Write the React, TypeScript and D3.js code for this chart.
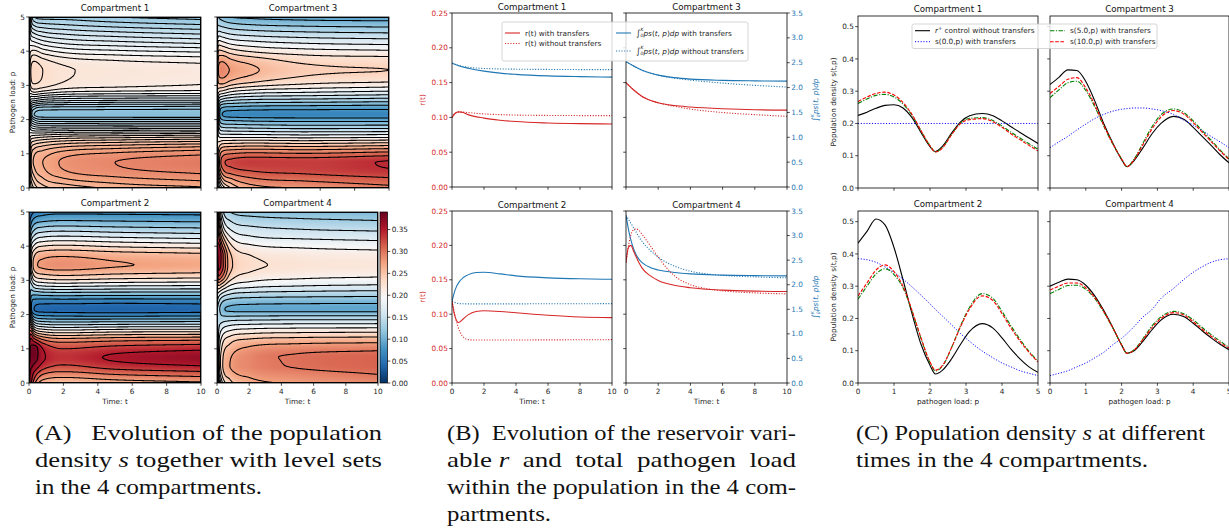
import React, { useMemo } from 'react';
import * as d3 from 'd3';

// ---------------- data ----------------
const P_GRID = [0, 0.25, 0.5, 0.75, 1, 1.25, 1.5, 1.75, 2, 2.15, 2.35, 2.6, 2.85, 3.1, 3.45, 3.75, 4, 4.25, 4.5, 4.75, 5];
const SNAP_TIMES = [0, 0.1, 0.3, 0.8, 2, 5, 10];

// Panel C profiles (also t=0, t=5, t=10 snapshots of the heat maps)
const C1_CONTROL = [0.225, 0.235, 0.247, 0.256, 0.258, 0.248, 0.218, 0.172, 0.128, 0.113, 0.13, 0.17, 0.205, 0.224, 0.231, 0.224, 0.208, 0.19, 0.172, 0.155, 0.138];
const C1_S0 = [0.2, 0.2, 0.2, 0.2, 0.2, 0.2, 0.2, 0.2, 0.2, 0.2, 0.2, 0.2, 0.2, 0.2, 0.2, 0.2, 0.2, 0.2, 0.2, 0.2, 0.2];
const C1_S5 = [0.262, 0.276, 0.287, 0.29, 0.282, 0.26, 0.225, 0.177, 0.131, 0.112, 0.126, 0.166, 0.202, 0.216, 0.218, 0.209, 0.192, 0.173, 0.155, 0.137, 0.12];
const C1_S10 = [0.268, 0.282, 0.293, 0.297, 0.288, 0.265, 0.228, 0.178, 0.131, 0.1115, 0.125, 0.165, 0.2, 0.212, 0.215, 0.205, 0.188, 0.168, 0.15, 0.132, 0.115];

const C2_CONTROL = [0.433, 0.47, 0.508, 0.49, 0.42, 0.32, 0.215, 0.12, 0.055, 0.028, 0.04, 0.075, 0.12, 0.16, 0.184, 0.17, 0.14, 0.105, 0.075, 0.05, 0.033];
const C2_S0 = [0.385, 0.382, 0.374, 0.36, 0.343, 0.322, 0.298, 0.272, 0.245, 0.228, 0.207, 0.18, 0.153, 0.129, 0.099, 0.078, 0.062, 0.05, 0.038, 0.03, 0.023];
const C2_S5 = [0.26, 0.3, 0.338, 0.354, 0.336, 0.295, 0.222, 0.138, 0.063, 0.037, 0.053, 0.11, 0.178, 0.235, 0.277, 0.262, 0.222, 0.177, 0.135, 0.098, 0.067];
const C2_S10 = [0.27, 0.31, 0.35, 0.366, 0.345, 0.3, 0.225, 0.14, 0.065, 0.04, 0.055, 0.11, 0.175, 0.23, 0.27, 0.255, 0.215, 0.17, 0.13, 0.095, 0.065];

const C3_CONTROL = [0.321, 0.343, 0.366, 0.364, 0.33, 0.27, 0.2, 0.14, 0.088, 0.066, 0.085, 0.125, 0.168, 0.2, 0.222, 0.212, 0.188, 0.16, 0.132, 0.103, 0.078];
const C3_S0 = [0.125, 0.143, 0.16, 0.18, 0.198, 0.215, 0.228, 0.238, 0.244, 0.246, 0.248, 0.248, 0.245, 0.24, 0.228, 0.21, 0.195, 0.178, 0.16, 0.143, 0.125];
const C3_S5 = [0.28, 0.304, 0.326, 0.331, 0.302, 0.252, 0.192, 0.137, 0.09, 0.066, 0.09, 0.14, 0.19, 0.227, 0.245, 0.233, 0.208, 0.178, 0.148, 0.118, 0.09];
const C3_S10 = [0.293, 0.315, 0.337, 0.342, 0.31, 0.258, 0.195, 0.138, 0.09, 0.066, 0.088, 0.135, 0.183, 0.22, 0.24, 0.228, 0.203, 0.173, 0.144, 0.115, 0.088];

const C4_CONTROL = [0.3, 0.312, 0.322, 0.32, 0.303, 0.27, 0.225, 0.173, 0.118, 0.092, 0.1, 0.13, 0.165, 0.195, 0.213, 0.205, 0.185, 0.162, 0.14, 0.12, 0.103];
const C4_S0 = [0.023, 0.03, 0.038, 0.05, 0.062, 0.078, 0.095, 0.118, 0.138, 0.153, 0.175, 0.205, 0.228, 0.262, 0.293, 0.322, 0.343, 0.36, 0.374, 0.382, 0.385];
const C4_S5 = [0.277, 0.29, 0.302, 0.303, 0.29, 0.262, 0.22, 0.171, 0.118, 0.092, 0.103, 0.138, 0.177, 0.205, 0.222, 0.214, 0.196, 0.172, 0.15, 0.13, 0.11];
const C4_S10 = [0.288, 0.3, 0.31, 0.31, 0.295, 0.265, 0.222, 0.172, 0.118, 0.092, 0.102, 0.135, 0.172, 0.2, 0.218, 0.21, 0.19, 0.167, 0.145, 0.125, 0.108];

// Heat-map transient snapshots at t = 0.1, 0.3, 0.8, 2
const H1_T01 = [0.215, 0.228, 0.238, 0.244, 0.242, 0.232, 0.212, 0.185, 0.158, 0.145, 0.152, 0.18, 0.21, 0.226, 0.23, 0.222, 0.21, 0.195, 0.18, 0.165, 0.155];
const H1_T03 = [0.232, 0.245, 0.256, 0.262, 0.258, 0.242, 0.215, 0.178, 0.14, 0.12, 0.135, 0.178, 0.216, 0.232, 0.236, 0.228, 0.212, 0.192, 0.172, 0.15, 0.13];
const H1_T08 = [0.245, 0.258, 0.267, 0.27, 0.265, 0.248, 0.218, 0.175, 0.131, 0.1135, 0.128, 0.172, 0.212, 0.228, 0.23, 0.222, 0.205, 0.185, 0.165, 0.145, 0.125];
const H1_T2 = [0.252, 0.268, 0.279, 0.282, 0.275, 0.255, 0.222, 0.176, 0.131, 0.1125, 0.127, 0.168, 0.205, 0.22, 0.222, 0.214, 0.197, 0.178, 0.16, 0.142, 0.125];

const H2_T01 = [0.36, 0.37, 0.378, 0.382, 0.38, 0.36, 0.31, 0.23, 0.14, 0.1, 0.095, 0.11, 0.14, 0.17, 0.2, 0.19, 0.16, 0.125, 0.09, 0.06, 0.035];
const H2_T03 = [0.31, 0.34, 0.37, 0.384, 0.386, 0.34, 0.255, 0.16, 0.08, 0.05, 0.06, 0.105, 0.165, 0.22, 0.26, 0.245, 0.205, 0.16, 0.12, 0.085, 0.05];
const H2_T08 = [0.26, 0.3, 0.34, 0.355, 0.35, 0.305, 0.225, 0.14, 0.068, 0.04, 0.055, 0.11, 0.178, 0.235, 0.28, 0.265, 0.225, 0.178, 0.135, 0.095, 0.062];
const H2_T2 = [0.25, 0.288, 0.322, 0.338, 0.325, 0.288, 0.215, 0.135, 0.065, 0.038, 0.055, 0.112, 0.182, 0.242, 0.285, 0.27, 0.23, 0.183, 0.14, 0.1, 0.068];

const H3_T01 = [0.16, 0.2, 0.24, 0.26, 0.255, 0.232, 0.2, 0.168, 0.14, 0.13, 0.14, 0.18, 0.228, 0.265, 0.285, 0.272, 0.245, 0.21, 0.172, 0.14, 0.118];
const H3_T03 = [0.2, 0.25, 0.29, 0.31, 0.29, 0.248, 0.195, 0.145, 0.1, 0.08, 0.1, 0.16, 0.222, 0.268, 0.29, 0.275, 0.242, 0.205, 0.168, 0.136, 0.11];
const H3_T08 = [0.24, 0.275, 0.31, 0.325, 0.3, 0.252, 0.195, 0.142, 0.095, 0.07, 0.095, 0.15, 0.208, 0.255, 0.278, 0.262, 0.23, 0.194, 0.16, 0.129, 0.1];
const H3_T2 = [0.27, 0.295, 0.32, 0.332, 0.305, 0.255, 0.195, 0.14, 0.092, 0.067, 0.092, 0.143, 0.197, 0.242, 0.264, 0.25, 0.218, 0.186, 0.154, 0.123, 0.095];

const H4_T01 = [0.11, 0.15, 0.17, 0.175, 0.17, 0.16, 0.15, 0.14, 0.135, 0.135, 0.15, 0.19, 0.25, 0.32, 0.365, 0.375, 0.36, 0.33, 0.31, 0.29, 0.27];
const H4_T03 = [0.19, 0.225, 0.24, 0.238, 0.228, 0.21, 0.183, 0.152, 0.122, 0.11, 0.125, 0.17, 0.235, 0.3, 0.34, 0.34, 0.31, 0.27, 0.23, 0.2, 0.17];
const H4_T08 = [0.24, 0.262, 0.275, 0.272, 0.26, 0.24, 0.205, 0.163, 0.117, 0.095, 0.11, 0.15, 0.2, 0.24, 0.26, 0.255, 0.235, 0.205, 0.175, 0.15, 0.125];
const H4_T2 = [0.265, 0.28, 0.29, 0.29, 0.28, 0.255, 0.215, 0.168, 0.117, 0.092, 0.105, 0.142, 0.185, 0.215, 0.232, 0.225, 0.205, 0.18, 0.158, 0.136, 0.115];

const LEVEL_STEP = { 1: 0.01, 2: 0.025, 3: 0.02, 4: 0.025 };

// Panel B time series
const B1_R_WITH_T = [0, 0.2, 0.4, 0.7, 1, 2, 3, 4, 6, 8, 10];
const B1_R_WITH = [0.1, 0.106, 0.108, 0.107, 0.104, 0.099, 0.096, 0.094, 0.092, 0.091, 0.0905];
const B1_R_WO_T = [0, 0.2, 0.5, 1, 2, 3, 5, 10];
const B1_R_WO = [0.1, 0.106, 0.108, 0.107, 0.105, 0.104, 0.103, 0.1025];
const B1_I_WITH_T = [0, 0.5, 1, 2, 3, 4, 6, 8, 10];
const B1_I_WITH = [2.49, 2.43, 2.39, 2.33, 2.29, 2.265, 2.235, 2.22, 2.21];
const B1_I_WO_T = [0, 0.5, 1, 2, 4, 6, 10];
const B1_I_WO = [2.49, 2.44, 2.41, 2.385, 2.37, 2.365, 2.36];

const B3_T = [0, 0.5, 1, 2, 3, 4, 6, 8, 10];
const B3_R_WITH = [0.15, 0.139, 0.13, 0.121, 0.117, 0.115, 0.1125, 0.111, 0.1105];
const B3_R_WO = [0.15, 0.139, 0.13, 0.121, 0.116, 0.112, 0.107, 0.104, 0.1015];
const B3_I_WITH = [2.52, 2.43, 2.35, 2.25, 2.2, 2.17, 2.145, 2.135, 2.13];
const B3_I_WO = [2.52, 2.43, 2.35, 2.25, 2.19, 2.15, 2.09, 2.045, 2.01];

const B2_R_WITH_T = [0, 0.15, 0.4, 0.7, 1, 1.5, 2, 3, 4, 6, 8, 10];
const B2_R_WITH = [0.119, 0.1, 0.088, 0.093, 0.099, 0.104, 0.105, 0.104, 0.102, 0.0985, 0.096, 0.095];
const B2_R_WO_T = [0, 0.25, 0.5, 0.75, 1, 1.5, 10];
const B2_R_WO = [0.119, 0.092, 0.074, 0.066, 0.063, 0.0625, 0.063];
const B2_I_WITH_T = [0, 0.2, 0.5, 1, 1.5, 2, 3, 4, 6, 8, 10];
const B2_I_WITH = [1.66, 1.9, 2.08, 2.2, 2.25, 2.255, 2.22, 2.18, 2.14, 2.12, 2.11];
const B2_I_WO_T = [0, 0.5, 1, 10];
const B2_I_WO = [1.66, 1.615, 1.61, 1.615];

const B4_R_WITH_T = [0, 0.15, 0.3, 0.5, 0.8, 1, 1.5, 2, 3, 4, 6, 8, 10];
const B4_R_WITH = [0.175, 0.197, 0.2, 0.19, 0.175, 0.167, 0.156, 0.149, 0.142, 0.1385, 0.135, 0.1335, 0.133];
const B4_R_WO_T = [0, 0.2, 0.4, 0.6, 0.8, 1, 1.5, 2, 2.5, 3, 4, 5, 6, 8, 10];
const B4_R_WO = [0.175, 0.205, 0.221, 0.224, 0.222, 0.216, 0.2, 0.183, 0.168, 0.156, 0.143, 0.137, 0.134, 0.131, 0.1295];
const B4_I_WITH_T = [0, 0.2, 0.4, 0.6, 0.8, 1, 1.5, 2, 3, 4, 6, 8, 10];
const B4_I_WITH = [3.41, 3.05, 2.8, 2.63, 2.52, 2.45, 2.35, 2.3, 2.25, 2.22, 2.195, 2.185, 2.18];
const B4_I_WO_T = [0, 0.25, 0.5, 1, 1.5, 2, 3, 4, 5, 6, 8, 10];
const B4_I_WO = [3.41, 3.28, 3.14, 2.88, 2.7, 2.56, 2.38, 2.275, 2.22, 2.19, 2.16, 2.14];

// ticks
const T_TICKS = [0, 2, 4, 6, 8, 10];
const P_TICKS = [0, 1, 2, 3, 4, 5];
const R_TICKS = [0, 0.05, 0.1, 0.15, 0.2, 0.25];
const I_TICKS = [0, 0.5, 1, 1.5, 2, 2.5, 3, 3.5];
const S_TICKS = [0, 0.1, 0.2, 0.3, 0.4, 0.5];
const CB_TICKS = [0, 0.05, 0.1, 0.15, 0.2, 0.25, 0.3, 0.35];

// ---------------- helpers ----------------
const RDBU_R = ['#053061', '#2166ac', '#4393c3', '#92c5de', '#d1e5f0', '#f7f7f7', '#fddbc7', '#f4a582', '#d6604d', '#b2182b', '#67001f'];
const VMAX = 0.39;
const SANS = 'DejaVu Sans, sans-serif';
const TF = 7.3;
const TXT = '#262626';
const TRED = '#d62728';
const TBLUE = '#1f77b4';

function monotone(xs: number[], ys: number[]) {
  const n = xs.length;
  const d: number[] = [];
  const m: number[] = new Array(n).fill(0);
  for (let i = 0; i < n - 1; i++) d.push((ys[i + 1] - ys[i]) / (xs[i + 1] - xs[i]));
  m[0] = d[0];
  m[n - 1] = d[n - 2];
  for (let i = 1; i < n - 1; i++) m[i] = d[i - 1] * d[i] <= 0 ? 0 : (d[i - 1] + d[i]) / 2;
  for (let i = 0; i < n - 1; i++) {
    if (d[i] === 0) { m[i] = 0; m[i + 1] = 0; continue; }
    const a = m[i] / d[i], b = m[i + 1] / d[i];
    const s = a * a + b * b;
    if (s > 9) { const tau = 3 / Math.sqrt(s); m[i] = tau * a * d[i]; m[i + 1] = tau * b * d[i]; }
  }
  return (x: number) => {
    let i = d3.bisectRight(xs, x) - 1;
    if (i < 0) i = 0;
    if (i > n - 2) i = n - 2;
    const h = xs[i + 1] - xs[i];
    const t = (x - xs[i]) / h;
    const t2 = t * t, t3 = t2 * t;
    return (2 * t3 - 3 * t2 + 1) * ys[i] + (t3 - 2 * t2 + t) * h * m[i] + (-2 * t3 + 3 * t2) * ys[i + 1] + (t3 - t2) * h * m[i + 1];
  };
}

const cmapScale = d3.scaleLinear<string>()
  .domain(RDBU_R.map((_, i) => (i / 10) * VMAX))
  .range(RDBU_R)
  .interpolate(d3.interpolateRgb)
  .clamp(true);

function buildLUT() {
  const N = 1024;
  const lut = new Uint8ClampedArray(N * 3);
  for (let k = 0; k < N; k++) {
    const c = d3.rgb(cmapScale((k / (N - 1)) * VMAX));
    lut[k * 3] = c.r; lut[k * 3 + 1] = c.g; lut[k * 3 + 2] = c.b;
  }
  return lut;
}

const SNAPS: Record<number, number[][]> = {
  1: [C1_S0, H1_T01, H1_T03, H1_T08, H1_T2, C1_S5, C1_S10],
  2: [C2_S0, H2_T01, H2_T03, H2_T08, H2_T2, C2_S5, C2_S10],
  3: [C3_S0, H3_T01, H3_T03, H3_T08, H3_T2, C3_S5, C3_S10],
  4: [C4_S0, H4_T01, H4_T03, H4_T08, H4_T2, C4_S5, C4_S10],
};

function Heatmap({ comp, x, y, w, h }: { comp: number; x: number; y: number; w: number; h: number }) {
  const res = useMemo(() => {
    const nx = Math.round(w), ny = Math.round(h);
    const profs = SNAPS[comp].map((s) => monotone(P_GRID, s));
    const vals = new Array(nx * ny);
    for (let j = 0; j < ny; j++) {
      const p = 5 - ((j + 0.5) / ny) * 5;
      const col = profs.map((f) => f(p));
      const ft = monotone(SNAP_TIMES, col);
      for (let i = 0; i < nx; i++) {
        const t = ((i + 0.5) / nx) * 10;
        vals[j * nx + i] = ft(t);
      }
    }
    const lut = buildLUT();
    const canvas = document.createElement('canvas');
    canvas.width = nx; canvas.height = ny;
    const ctx = canvas.getContext('2d')!;
    const img = ctx.createImageData(nx, ny);
    for (let k = 0; k < nx * ny; k++) {
      let q = Math.round((vals[k] / VMAX) * 1023);
      q = Math.max(0, Math.min(1023, q));
      img.data[k * 4] = lut[q * 3];
      img.data[k * 4 + 1] = lut[q * 3 + 1];
      img.data[k * 4 + 2] = lut[q * 3 + 2];
      img.data[k * 4 + 3] = 255;
    }
    ctx.putImageData(img, 0, 0);
    const href = canvas.toDataURL();
    const step = (LEVEL_STEP as any)[comp];
    const levels = d3.range(1, Math.floor(0.4 / step)).map((k) => k * step);
    const contours = d3.contours().size([nx, ny]).thresholds(levels)(vals);
    const tr = d3.geoTransform({
      point: function (this: any, px: number, py: number) {
        this.stream.point(x + (px * w) / nx, y + (py * h) / ny);
      },
    });
    const gp = d3.geoPath(tr);
    const paths = contours.map((c) => gp(c as any)).filter((d) => !!d) as string[];
    return { href, paths };
  }, [comp, x, y, w, h]);
  const cid = `clipA${comp}`;
  return (
    <g>
      <clipPath id={cid}><rect x={x} y={y} width={w} height={h} /></clipPath>
      <image href={res.href} x={x} y={y} width={w} height={h} preserveAspectRatio="none" />
      <g clipPath={`url(#${cid})`}>
        {res.paths.map((d, i) => (
          <path key={i} d={d} fill="none" stroke="#000" strokeWidth={1.05} />
        ))}
      </g>
      <rect x={x} y={y} width={w} height={h} fill="none" stroke="#000" strokeWidth={0.8} />
    </g>
  );
}

function XTicks({ scale, y, ticks, labels, fmt }: any) {
  return (
    <g>
      {ticks.map((t: number) => (
        <g key={t}>
          <line x1={scale(t)} x2={scale(t)} y1={y} y2={y + 2.8} stroke="#000" strokeWidth={0.7} />
          {labels && (
            <text x={scale(t)} y={y + 10.5} fontSize={TF} fontFamily={SANS} fill={TXT} textAnchor="middle">{fmt ? fmt(t) : t}</text>
          )}
        </g>
      ))}
    </g>
  );
}

function YTicks({ scale, x, ticks, labels, fmt, side = 'left', color = TXT }: any) {
  const dir = side === 'left' ? -1 : 1;
  return (
    <g>
      {ticks.map((t: number) => (
        <g key={t}>
          <line x1={x} x2={x + dir * 2.8} y1={scale(t)} y2={scale(t)} stroke="#000" strokeWidth={0.7} />
          {labels && (
            <text x={x + dir * 4.2} y={scale(t) + 2.6} fontSize={TF} fontFamily={SANS} fill={color} textAnchor={side === 'left' ? 'end' : 'start'}>{fmt ? fmt(t) : t}</text>
          )}
        </g>
      ))}
    </g>
  );
}

function Title({ x, y, text }: any) {
  return <text x={x} y={y} fontSize={8.7} fontFamily={SANS} fill="#111" textAnchor="middle">{text}</text>;
}

function IntegralText({ fs, tail }: { fs: number; tail?: string }) {
  return (
    <>
      <tspan fontSize={fs * 1.15} fontFamily="DejaVu Sans">∫</tspan>
      <tspan fontSize={fs * 0.62} dy={fs * 0.25} fontStyle="italic">0</tspan>
      <tspan fontSize={fs * 0.62} dx={-fs * 0.38} dy={-fs * 0.85} fontStyle="italic">K</tspan>
      <tspan dy={fs * 0.6} fontStyle="italic">ps</tspan>
      <tspan>(</tspan>
      <tspan fontStyle="italic">t</tspan>
      <tspan>, </tspan>
      <tspan fontStyle="italic">p</tspan>
      <tspan>)</tspan>
      <tspan fontStyle="italic">dp</tspan>
      {tail ? <tspan>{tail}</tspan> : null}
    </>
  );
}

// ---------------- Panel A ----------------
function PanelA() {
  const panels = [
    { comp: 1, x: 29, y: 17, w: 172, h: 171, title: 'Compartment 1', yl: true, xl: false },
    { comp: 3, x: 217, y: 17, w: 172, h: 171, title: 'Compartment 3', yl: false, xl: false },
    { comp: 2, x: 29, y: 212, w: 172, h: 171, title: 'Compartment 2', yl: true, xl: true },
    { comp: 4, x: 217, y: 212, w: 161, h: 171, title: 'Compartment 4', yl: false, xl: true },
  ];
  const cb = { x: 380, y: 212, w: 7.5, h: 171 };
  const cbScale = d3.scaleLinear().domain([0, VMAX]).range([cb.y + cb.h, cb.y]);
  return (
    <g>
      <defs>
        <linearGradient id="cbgrad" x1="0" y1="1" x2="0" y2="0">
          {RDBU_R.map((c, i) => <stop key={i} offset={`${i * 10}%`} stopColor={c} />)}
        </linearGradient>
      </defs>
      {panels.map((pn) => {
        const xs = d3.scaleLinear().domain([0, 10]).range([pn.x, pn.x + pn.w]);
        const ys = d3.scaleLinear().domain([0, 5]).range([pn.y + pn.h, pn.y]);
        return (
          <g key={pn.comp}>
            <Heatmap comp={pn.comp} x={pn.x} y={pn.y} w={pn.w} h={pn.h} />
            <XTicks scale={xs} y={pn.y + pn.h} ticks={T_TICKS} labels={pn.xl} />
            <YTicks scale={ys} x={pn.x} ticks={P_TICKS} labels={pn.yl} />
            <Title x={pn.x + pn.w / 2} y={pn.y - 6} text={pn.title} />
            {pn.xl && <text x={pn.x + pn.w / 2} y={pn.y + pn.h + 20.5} fontSize={TF} fontFamily={SANS} fill={TXT} textAnchor="middle">Time: t</text>}
            {pn.yl && <text transform={`translate(14.5,${pn.y + pn.h / 2}) rotate(-90)`} fontSize={TF} fontFamily={SANS} fill={TXT} textAnchor="middle">Pathogen load: p</text>}
          </g>
        );
      })}
      <rect x={cb.x} y={cb.y} width={cb.w} height={cb.h} fill="url(#cbgrad)" stroke="#000" strokeWidth={0.7} />
      <YTicks scale={cbScale} x={cb.x + cb.w} ticks={CB_TICKS} labels side="right" fmt={(v: number) => v.toFixed(2)} />
    </g>
  );
}

// ---------------- Panel B ----------------
function PanelB() {
  const panels = [
    { comp: 1, x: 452, y: 13, w: 160, h: 174, title: 'Compartment 1', left: true, right: false, xl: false,
      rw: [B1_R_WITH_T, B1_R_WITH], ro: [B1_R_WO_T, B1_R_WO], iw: [B1_I_WITH_T, B1_I_WITH], io: [B1_I_WO_T, B1_I_WO] },
    { comp: 3, x: 626, y: 13, w: 161, h: 174, title: 'Compartment 3', left: false, right: true, xl: false,
      rw: [B3_T, B3_R_WITH], ro: [B3_T, B3_R_WO], iw: [B3_T, B3_I_WITH], io: [B3_T, B3_I_WO] },
    { comp: 2, x: 452, y: 211, w: 160, h: 172, title: 'Compartment 2', left: true, right: false, xl: true,
      rw: [B2_R_WITH_T, B2_R_WITH], ro: [B2_R_WO_T, B2_R_WO], iw: [B2_I_WITH_T, B2_I_WITH], io: [B2_I_WO_T, B2_I_WO] },
    { comp: 4, x: 626, y: 211, w: 161, h: 172, title: 'Compartment 4', left: false, right: true, xl: true,
      rw: [B4_R_WITH_T, B4_R_WITH], ro: [B4_R_WO_T, B4_R_WO], iw: [B4_I_WITH_T, B4_I_WITH], io: [B4_I_WO_T, B4_I_WO] },
  ];
  return (
    <g>
      {panels.map((pn) => {
        const xs = d3.scaleLinear().domain([0, 10]).range([pn.x, pn.x + pn.w]);
        const yr = d3.scaleLinear().domain([0, 0.25]).range([pn.y + pn.h, pn.y]);
        const yi = d3.scaleLinear().domain([0, 3.5]).range([pn.y + pn.h, pn.y]);
        const mk = (ser: number[][], ys: any) =>
          d3.line<number>().x((_, i) => xs(ser[0][i])).y((v) => ys(v)).curve(d3.curveMonotoneX)(ser[1]) || '';
        const cid = `clipB${pn.comp}`;
        return (
          <g key={pn.comp}>
            <clipPath id={cid}><rect x={pn.x} y={pn.y} width={pn.w} height={pn.h} /></clipPath>
            <g clipPath={`url(#${cid})`}>
              <path d={mk(pn.iw, yi)} fill="none" stroke={TBLUE} strokeWidth={1.1} />
              <path d={mk(pn.io, yi)} fill="none" stroke={TBLUE} strokeWidth={1.1} strokeDasharray="1.1,1.6" />
              <path d={mk(pn.rw, yr)} fill="none" stroke={TRED} strokeWidth={1.1} />
              <path d={mk(pn.ro, yr)} fill="none" stroke={TRED} strokeWidth={1.1} strokeDasharray="1.1,1.6" />
            </g>
            <rect x={pn.x} y={pn.y} width={pn.w} height={pn.h} fill="none" stroke="#000" strokeWidth={0.8} />
            <XTicks scale={xs} y={pn.y + pn.h} ticks={T_TICKS} labels={pn.xl} />
            <YTicks scale={yr} x={pn.x} ticks={R_TICKS} labels={pn.left} color={TRED} fmt={(v: number) => v.toFixed(2)} />
            {pn.right && <YTicks scale={yi} x={pn.x + pn.w} ticks={I_TICKS} labels side="right" color={TBLUE} fmt={(v: number) => v.toFixed(1)} />}
            <Title x={pn.x + pn.w / 2} y={pn.y - 3.5} text={pn.title} />
            {pn.xl && <text x={pn.x + pn.w / 2} y={pn.y + pn.h + 20.5} fontSize={TF} fontFamily={SANS} fill={TXT} textAnchor="middle">Time: t</text>}
            {pn.left && <text transform={`translate(425,${pn.y + pn.h / 2}) rotate(-90)`} fontSize={TF} fontFamily={SANS} fill={TRED} textAnchor="middle">r(t)</text>}
            {pn.right && (
              <text transform={`translate(818,${pn.y + pn.h / 2}) rotate(-90)`} fontSize={TF} fontFamily={SANS} fill={TBLUE} textAnchor="middle">
                <IntegralText fs={TF} />
              </text>
            )}
          </g>
        );
      })}
      {/* legend */}
      <g>
        <rect x={502} y={22} width={246} height={39} rx={2} fill="#fff" fillOpacity={0.8} stroke="#cccccc" strokeWidth={0.8} />
        <line x1={505} x2={520} y1={33} y2={33} stroke={TRED} strokeWidth={1.1} />
        <text x={525} y={35.6} fontSize={TF} fontFamily={SANS} fill={TXT}>r(t) with transfers</text>
        <line x1={505} x2={520} y1={43.5} y2={43.5} stroke={TRED} strokeWidth={1.1} strokeDasharray="1.1,1.6" />
        <text x={525} y={46.1} fontSize={TF} fontFamily={SANS} fill={TXT}>r(t) without transfers</text>
        <line x1={616} x2={631} y1={33} y2={33} stroke={TBLUE} strokeWidth={1.1} />
        <text x={636} y={35.6} fontSize={TF} fontFamily={SANS} fill={TXT}><IntegralText fs={TF} tail=" with transfers" /></text>
        <line x1={616} x2={631} y1={51} y2={51} stroke={TBLUE} strokeWidth={1.1} strokeDasharray="1.1,1.6" />
        <text x={636} y={53.6} fontSize={TF} fontFamily={SANS} fill={TXT}><IntegralText fs={TF} tail=" without transfers" /></text>
      </g>
    </g>
  );
}

// ---------------- Panel C ----------------
function PanelC() {
  const panels = [
    { comp: 1, x: 858, y: 16, w: 180, h: 172, title: 'Compartment 1', yl: true, xl: false, s: [C1_CONTROL, C1_S0, C1_S5, C1_S10] },
    { comp: 3, x: 1050, y: 16, w: 179, h: 172, title: 'Compartment 3', yl: false, xl: false, s: [C3_CONTROL, C3_S0, C3_S5, C3_S10] },
    { comp: 2, x: 858, y: 211, w: 180, h: 172, title: 'Compartment 2', yl: true, xl: true, s: [C2_CONTROL, C2_S0, C2_S5, C2_S10] },
    { comp: 4, x: 1050, y: 211, w: 179, h: 172, title: 'Compartment 4', yl: false, xl: true, s: [C4_CONTROL, C4_S0, C4_S5, C4_S10] },
  ];
  const styles = [
    { stroke: '#000000', dash: undefined, sw: 1.1 },
    { stroke: '#0000ff', dash: '1.1,1.7', sw: 1.0 },
    { stroke: '#008000', dash: '4.4,1.5,1.1,1.5', sw: 1.1 },
    { stroke: '#ff0000', dash: '3.6,1.6', sw: 1.1 },
  ];
  return (
    <g>
      {panels.map((pn) => {
        const xs = d3.scaleLinear().domain([0, 5]).range([pn.x, pn.x + pn.w]);
        const ys = d3.scaleLinear().domain([0, 0.533]).range([pn.y + pn.h, pn.y]);
        const line = d3.line<number>().x((_, i) => xs(P_GRID[i])).y((v) => ys(v)).curve(d3.curveMonotoneX);
        const cid = `clipC${pn.comp}`;
        return (
          <g key={pn.comp}>
            <clipPath id={cid}><rect x={pn.x} y={pn.y} width={pn.w} height={pn.h} /></clipPath>
            <g clipPath={`url(#${cid})`}>
              {pn.s.map((arr, k) => (
                <path key={k} d={line(arr) || ''} fill="none" stroke={styles[k].stroke} strokeWidth={styles[k].sw} strokeDasharray={styles[k].dash} />
              ))}
            </g>
            <rect x={pn.x} y={pn.y} width={pn.w} height={pn.h} fill="none" stroke="#000" strokeWidth={0.8} />
            <XTicks scale={xs} y={pn.y + pn.h} ticks={P_TICKS} labels={pn.xl} />
            <YTicks scale={ys} x={pn.x} ticks={S_TICKS} labels={pn.yl} fmt={(v: number) => v.toFixed(1)} />
            <Title x={pn.x + pn.w / 2} y={pn.y - 4.5} text={pn.title} />
            {pn.xl && <text x={pn.x + pn.w / 2} y={pn.y + pn.h + 20.5} fontSize={TF} fontFamily={SANS} fill={TXT} textAnchor="middle">pathogen load: p</text>}
            {pn.yl && <text transform={`translate(836,${pn.y + pn.h / 2}) rotate(-90)`} fontSize={TF} fontFamily={SANS} fill={TXT} textAnchor="middle">Population density s(t,p)</text>}
          </g>
        );
      })}
      <g>
        <rect x={912} y={24} width={245} height={24.5} rx={2} fill="#fff" fillOpacity={0.8} stroke="#cccccc" strokeWidth={0.8} />
        <line x1={915} x2={930} y1={30.7} y2={30.7} stroke="#000" strokeWidth={1.1} />
        <text x={935} y={33.3} fontSize={TF} fontFamily={SANS} fill={TXT}>
          <tspan fontStyle="italic">r</tspan><tspan fontSize={TF * 0.7} dy={-3}>+</tspan><tspan dy={3}> control without transfers</tspan>
        </text>
        <line x1={915} x2={930} y1={41.7} y2={41.7} stroke="#0000ff" strokeWidth={1} strokeDasharray="1.1,1.7" />
        <text x={935} y={44.3} fontSize={TF} fontFamily={SANS} fill={TXT}>s(0.0,p) with transfers</text>
        <line x1={1050} x2={1065} y1={30.7} y2={30.7} stroke="#008000" strokeWidth={1.1} strokeDasharray="4.4,1.5,1.1,1.5" />
        <text x={1070} y={33.3} fontSize={TF} fontFamily={SANS} fill={TXT}>s(5.0,p) with transfers</text>
        <line x1={1050} x2={1065} y1={41.7} y2={41.7} stroke="#ff0000" strokeWidth={1.1} strokeDasharray="3.6,1.6" />
        <text x={1070} y={44.3} fontSize={TF} fontFamily={SANS} fill={TXT}>s(10.0,p) with transfers</text>
      </g>
    </g>
  );
}

// ---------------- captions ----------------
const SERIF = 'Liberation Serif, DejaVu Serif, serif';
function Cap({ x, y, len, children }: any) {
  return (
    <text x={x} y={y} fontSize={21} fontFamily={SERIF} fill="#111" textLength={len} lengthAdjust="spacingAndGlyphs" style={{ whiteSpace: 'pre' }}>
      {children}
    </text>
  );
}

function Captions() {
  const it = (s: string) => <tspan fontStyle="italic">{s}</tspan>;
  return (
    <g>
      <Cap x={35} y={440} len={347}>(A)   Evolution of the population</Cap>
      <Cap x={35} y={467} len={347}>density {it('s')} together with level sets</Cap>
      <Cap x={35} y={494} len={227}>in the 4 compartments.</Cap>

      <Cap x={447} y={440} len={349}>(B)  Evolution of the reservoir vari-</Cap>
      <Cap x={447} y={467} len={349}>able {it('r')}  and  total  pathogen  load</Cap>
      <Cap x={447} y={494} len={349}>within the population in the 4 com-</Cap>
      <Cap x={447} y={521} len={104}>partments.</Cap>

      <Cap x={856} y={440} len={349}>(C) Population density {it('s')} at different</Cap>
      <Cap x={856} y={467} len={292}>times in the 4 compartments.</Cap>
    </g>
  );
}

export default function App() {
  return (
    <div style={{ position: 'absolute', left: 0, top: 0, width: 1229, height: 529, background: '#fff' }}>
      <svg width={1229} height={529} viewBox="0 0 1229 529" style={{ display: 'block' }}>
        <rect x={0} y={0} width={1229} height={529} fill="#fff" />
        <PanelA />
        <PanelB />
        <PanelC />
        <Captions />
      </svg>
    </div>
  );
}
